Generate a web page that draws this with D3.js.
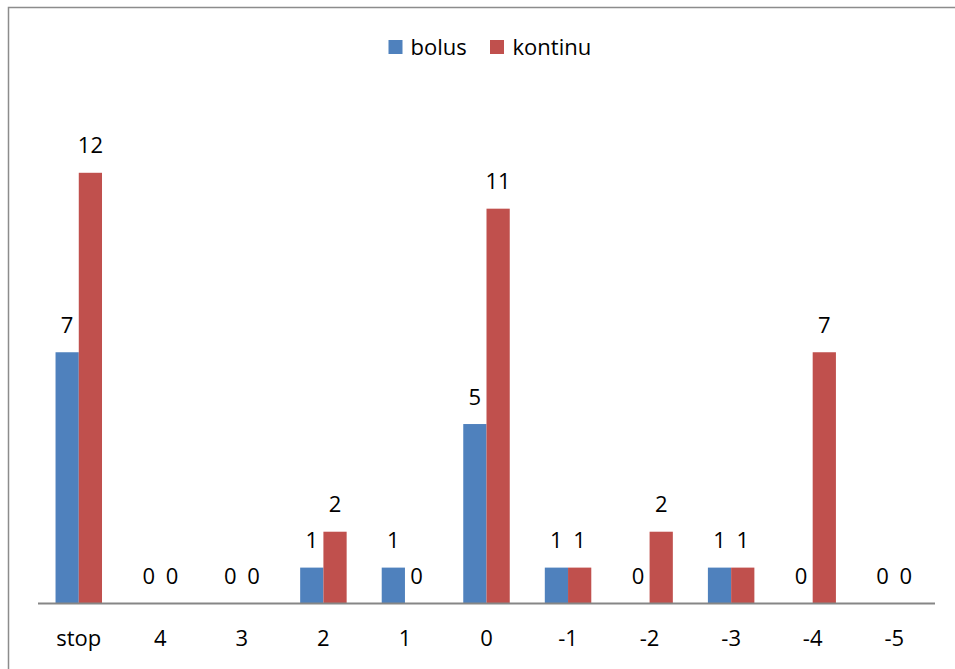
<!DOCTYPE html>
<html>
<head>
<meta charset="utf-8">
<script src="https://cdn.jsdelivr.net/npm/d3@7"></script>
<style>
  html, body { margin: 0; padding: 0; background: #fff; }
  svg { display: block; }
  text { font-family: "Open Sans", "Liberation Sans", sans-serif; fill: #000; }
</style>
</head>
<body>
<svg id="chart" width="955" height="669"></svg>
<script>
// Chart data
const categories = ["stop", "4", "3", "2", "1", "0", "-1", "-2", "-3", "-4", "-5"];
const bolus = [7, 0, 0, 1, 1, 5, 1, 0, 1, 0, 0];
const kontinu = [12, 0, 0, 2, 0, 11, 1, 2, 1, 7, 0];
const seriesNames = ["bolus", "kontinu"];
const seriesColors = ["#4F81BD", "#C0504D"];

const svg = d3.select("#chart");
const W = 955, H = 669;

// Outer chart frame
svg.append("rect")
  .attr("x", 8.5).attr("y", 7.5)
  .attr("width", W + 20).attr("height", H + 20)
  .attr("fill", "#fff")
  .attr("stroke", "#8c8c8c").attr("stroke-width", 1.5);

const plot = { left: 38, right: 935, top: 101, bottom: 603.5 };

const gap = 0.43;
const x = d3.scaleBand()
  .domain(categories)
  .range([plot.left, plot.right])
  .paddingInner(gap).paddingOuter(gap / 2);

const xs = d3.scaleBand()
  .domain(seriesNames)
  .range([0, x.bandwidth()]);

const y = d3.scaleLinear().domain([0, 14]).range([plot.bottom, plot.top]);

const rows = categories.map((c, i) => ({ cat: c, values: [bolus[i], kontinu[i]] }));

// Bars
const groups = svg.append("g").selectAll("g")
  .data(rows).join("g")
  .attr("transform", d => `translate(${x(d.cat)},0)`);

groups.selectAll("rect")
  .data(d => d.values.map((v, k) => ({ v, k })))
  .join("rect")
  .attr("x", d => xs(seriesNames[d.k]))
  .attr("width", xs.bandwidth())
  .attr("y", d => y(d.v))
  .attr("height", d => y(0) - y(d.v))
  .attr("fill", d => seriesColors[d.k]);

// Value labels
groups.selectAll("text.val")
  .data(d => d.values.map((v, k) => ({ v, k })))
  .join("text")
  .attr("class", "val")
  .attr("x", d => xs(seriesNames[d.k]) + xs.bandwidth() / 2)
  .attr("y", d => y(d.v) - 19.5)
  .attr("text-anchor", "middle")
  .attr("font-size", 22)
  .text(d => d.v);

// Category axis
const xAxis = svg.append("g")
  .attr("transform", `translate(0,${plot.bottom})`)
  .call(d3.axisBottom(x).tickSize(0).tickPadding(0));
xAxis.select(".domain").attr("stroke", "#868686").attr("stroke-width", 2)
  .attr("d", `M${plot.left},0H${plot.right}`);
xAxis.selectAll("text")
  .attr("font-size", 22)
  .attr("dy", null)
  .attr("y", 42.5)
  .attr("fill", "#000")
  .style("font-family", "\"Open Sans\", sans-serif");

// Legend
const legendItems = [
  { name: seriesNames[0], color: seriesColors[0], x: 388.5, tx: 410.5 },
  { name: seriesNames[1], color: seriesColors[1], x: 490, tx: 512.5 }
];
const legend = svg.append("g");
legend.selectAll("rect").data(legendItems).join("rect")
  .attr("x", d => d.x).attr("y", 40)
  .attr("width", 14).attr("height", 14)
  .attr("fill", d => d.color);
legend.selectAll("text").data(legendItems).join("text")
  .attr("x", d => d.tx).attr("y", 55)
  .attr("font-size", 22)
  .text(d => d.name);
</script>
</body>
</html>
